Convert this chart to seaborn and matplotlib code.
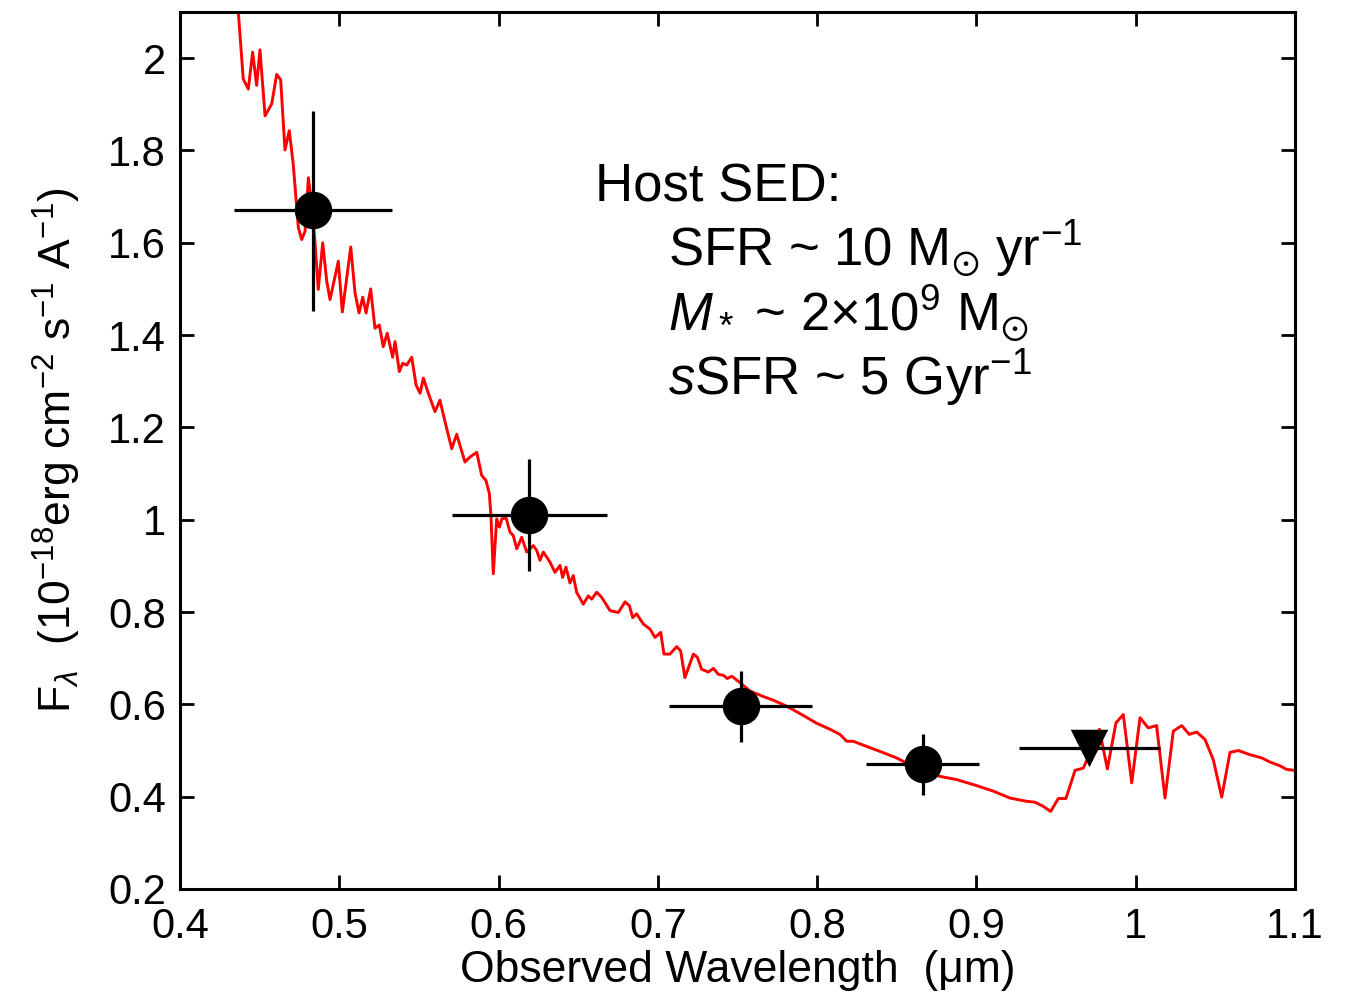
import numpy as np
import pandas as pd
import matplotlib
matplotlib.use("Agg")
import matplotlib.pyplot as plt
import seaborn as sns

# --- model SED (red line) ---
sed_wave = [0.4364, 0.4397, 0.4429, 0.4456, 0.4481, 0.4502, 0.4534, 0.4576, 0.4607, 0.4632,
            0.4659, 0.4686, 0.4711, 0.4733, 0.4743, 0.4764, 0.4785, 0.4806, 0.4820, 0.4847,
            0.4868, 0.4896, 0.4921, 0.4942, 0.4994, 0.5019, 0.5072, 0.5099, 0.5124, 0.5147,
            0.5168, 0.5197, 0.5224, 0.5251, 0.5276, 0.5301, 0.5335, 0.5350, 0.5377, 0.5398,
            0.5423, 0.5455, 0.5482, 0.5507, 0.5528, 0.5559, 0.5601, 0.5632, 0.5664, 0.5706,
            0.5737, 0.5789, 0.5821, 0.5863, 0.5894, 0.5921, 0.5942, 0.5952, 0.5967, 0.5988,
            0.6005, 0.6021, 0.6047, 0.6072, 0.6092, 0.6114, 0.6145, 0.6177, 0.6218, 0.6240,
            0.6260, 0.6281, 0.6323, 0.6354, 0.6386, 0.6402, 0.6423, 0.6448, 0.6469, 0.6490,
            0.6532, 0.6563, 0.6585, 0.6616, 0.6647, 0.6700, 0.6752, 0.6794, 0.6821, 0.6842,
            0.6867, 0.6909, 0.6951, 0.6982, 0.7018, 0.7038, 0.7076, 0.7118, 0.7143, 0.7170,
            0.7223, 0.7248, 0.7275, 0.7317, 0.7349, 0.7380, 0.7411, 0.7436, 0.7464, 0.7516,
            0.7578, 0.7662, 0.7725, 0.7809, 0.7913, 0.7997, 0.8081, 0.8143, 0.8186, 0.8227,
            0.8310, 0.8395, 0.8499, 0.8561, 0.8771, 0.8876, 0.9001, 0.9106, 0.9211, 0.9315,
            0.9368, 0.9420, 0.9466, 0.9514, 0.9562, 0.9619, 0.9671, 0.9720, 0.9772, 0.9822,
            0.9876, 0.9922, 0.9975, 1.0027, 1.0079, 1.0131, 1.0184, 1.0236, 1.0289, 1.0336,
            1.0383, 1.0435, 1.0487, 1.0540, 1.0592, 1.0644, 1.0717, 1.0791, 1.0843, 1.0905,
            1.0947, 1.1000]
sed_flux = [2.110, 1.955, 1.933, 2.013, 1.941, 2.018, 1.875, 1.901, 1.965, 1.953,
            1.801, 1.843, 1.770, 1.676, 1.633, 1.607, 1.625, 1.741, 1.700, 1.604,
            1.499, 1.600, 1.517, 1.477, 1.560, 1.450, 1.591, 1.491, 1.448, 1.482,
            1.448, 1.500, 1.415, 1.422, 1.375, 1.404, 1.352, 1.386, 1.321, 1.339,
            1.335, 1.352, 1.292, 1.274, 1.307, 1.274, 1.234, 1.259, 1.212, 1.154,
            1.185, 1.125, 1.136, 1.146, 1.096, 1.085, 1.057, 1.009, 0.883, 1.002,
            0.984, 1.002, 1.004, 0.973, 0.966, 0.937, 0.962, 0.930, 0.944, 0.933,
            0.912, 0.930, 0.908, 0.886, 0.901, 0.875, 0.897, 0.863, 0.879, 0.843,
            0.817, 0.835, 0.828, 0.843, 0.832, 0.803, 0.799, 0.822, 0.814, 0.788,
            0.796, 0.774, 0.763, 0.745, 0.756, 0.709, 0.709, 0.725, 0.716, 0.658,
            0.709, 0.702, 0.676, 0.670, 0.678, 0.665, 0.663, 0.656, 0.661, 0.647,
            0.629, 0.617, 0.609, 0.596, 0.576, 0.559, 0.546, 0.535, 0.520, 0.520,
            0.509, 0.498, 0.484, 0.473, 0.444, 0.437, 0.424, 0.412, 0.397, 0.390,
            0.388, 0.379, 0.368, 0.396, 0.396, 0.457, 0.462, 0.500, 0.546, 0.460,
            0.560, 0.578, 0.430, 0.571, 0.549, 0.554, 0.397, 0.542, 0.554, 0.535,
            0.540, 0.524, 0.480, 0.399, 0.496, 0.500, 0.491, 0.484, 0.475, 0.467,
            0.459, 0.457]

# --- photometry (detections) ---
phot_wave = [0.4835, 0.6191, 0.7522, 0.8662]
phot_flux = [1.670, 1.011, 0.596, 0.470]
phot_xlo = [0.4341, 0.5706, 0.7072, 0.8305]
phot_xhi = [0.5329, 0.6681, 0.7970, 0.9018]
phot_ylo = [1.453, 0.890, 0.518, 0.404]
phot_yhi = [1.886, 1.131, 0.672, 0.535]

# --- upper limit ---
lim_wave = [0.9708]
lim_flux = [0.506]
lim_xlo = [0.9267]
lim_xhi = [1.0152]

xticks = [0.4, 0.5, 0.6, 0.7, 0.8, 0.9, 1.0, 1.1]
xticklabels = ["0.4", "0.5", "0.6", "0.7", "0.8", "0.9", "1", "1.1"]
yticks = [0.2, 0.4, 0.6, 0.8, 1.0, 1.2, 1.4, 1.6, 1.8, 2.0]
yticklabels = ["0.2", "0.4", "0.6", "0.8", "1", "1.2", "1.4", "1.6", "1.8", "2"]

annot_lines = ["Host SED:",
               r"SFR ~ 10 M$_{\odot}$ yr$^{-1}$",
               r"$M_*$ ~ 2×10$^9$ M$_{\odot}$",
               r"$s$SFR ~ 5 Gyr$^{-1}$"]
annot_x = [0.6605, 0.7064, 0.7064, 0.7064]
annot_y = [1.689, 1.548, 1.409, 1.270]

sns.set_style("ticks")
plt.rcParams["font.family"] = ["Liberation Sans", "DejaVu Sans"]
plt.rcParams["mathtext.fontset"] = "custom"
plt.rcParams["mathtext.rm"] = "Liberation Sans"
plt.rcParams["mathtext.it"] = "Liberation Sans:italic"
plt.rcParams["mathtext.bf"] = "Liberation Sans:bold"
plt.rcParams["mathtext.fallback"] = "stixsans"
for k in ["text.color", "axes.labelcolor", "xtick.color", "ytick.color", "axes.edgecolor"]:
    plt.rcParams[k] = "black"

fig = plt.figure(figsize=(13.48, 9.94), dpi=100)
ax = fig.add_axes([180/1348, 1-889/994, (1295-180)/1348, (889-12)/994])

sed = pd.DataFrame({"wave": sed_wave, "flux": sed_flux})
sns.lineplot(data=sed, x="wave", y="flux", sort=False, estimator=None,
             color="#ff0000", lw=2.1, ax=ax, zorder=2)

pw = np.array(phot_wave); pf = np.array(phot_flux)
xerr = [pw - np.array(phot_xlo), np.array(phot_xhi) - pw]
yerr = [pf - np.array(phot_ylo), np.array(phot_yhi) - pf]
ax.errorbar(pw, pf, xerr=xerr, yerr=yerr, fmt="none", ecolor="black",
            elinewidth=2.3, capsize=0, zorder=3)
phot = pd.DataFrame({"wave": phot_wave, "flux": phot_flux})
sns.scatterplot(data=phot, x="wave", y="flux", color="black", s=27**2,
                edgecolor="black", linewidth=0, ax=ax, zorder=4)

lw_ = np.array(lim_wave); lf = np.array(lim_flux)
ax.errorbar(lw_, lf, xerr=[lw_ - np.array(lim_xlo), np.array(lim_xhi) - lw_],
            fmt="none", ecolor="black", elinewidth=2.3, capsize=0, zorder=3)
lim = pd.DataFrame({"wave": lim_wave, "flux": lim_flux})
sns.scatterplot(data=lim, x="wave", y="flux", color="black", marker="v",
                s=27**2, linewidth=0, ax=ax, zorder=4)

ax.set_xlim(0.4, 1.1)
ax.set_ylim(0.2, 2.1)
ax.set_xticks(xticks)
ax.set_xticklabels(xticklabels)
ax.set_yticks(yticks)
ax.set_yticklabels(yticklabels)
ax.tick_params(direction="in", length=10, width=2, labelsize=30,
               top=True, right=True, colors="black")
ax.tick_params(axis="x", pad=13)
ax.tick_params(axis="y", pad=10)
for s in ax.spines.values():
    s.set_linewidth(2.2)
    s.set_color("black")

ax.set_xlabel("Observed Wavelength  (\u03bcm)", fontsize=32, labelpad=2)
ax.set_ylabel(r"F$_\lambda$  (10$^{-18}$erg cm$^{-2}$ s$^{-1}$ A$^{-1}$)", fontsize=32, labelpad=18)

for txt, tx, ty in zip(annot_lines, annot_x, annot_y):
    ax.text(tx, ty, txt, fontsize=38, va="baseline", ha="left")

fig.savefig("out.png", dpi=100)
